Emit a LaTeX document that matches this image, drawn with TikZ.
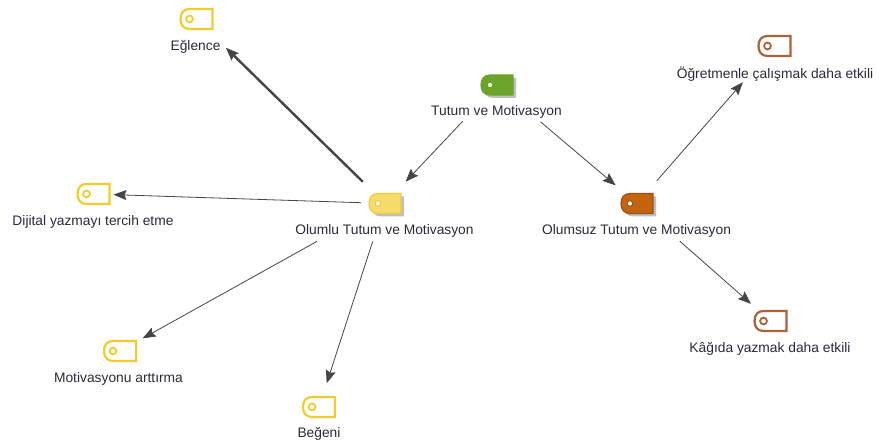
\documentclass[tikz,border=0pt]{standalone}
\usepackage{fontspec}
\setmainfont{Liberation Sans}
\usetikzlibrary{arrows.meta}
\definecolor{linkc}{HTML}{454545}
\definecolor{txt}{HTML}{2A2A3A}
\definecolor{ylw}{HTML}{F2CB2E}
\definecolor{ylwf}{HTML}{F5DA6C}
\definecolor{brn}{HTML}{A9623A}
\definecolor{grn}{HTML}{6BA428}
\definecolor{org}{HTML}{C4640F}
\definecolor{orgd}{HTML}{9A5214}
\tikzset{
  x=1pt,y=-1pt,
  link/.style={draw=linkc,line width=0.8pt,-{Stealth[length=13pt,width=10pt,inset=2pt]}},
  heavylink/.style={link,line width=2.4pt},
  concept/.style={font=\fontsize{13.8}{16}\selectfont,text=txt,inner sep=0pt},
  tagbox/.style={minimum width=33pt,minimum height=21pt,inner sep=0pt},
}
% name, x, y, stroke
\newcommand\hollowtag[4]{%
  \node[tagbox] (#1) at (#2,#3) {};
  \begin{scope}[shift={(#2,#3)}]
    \draw[#4,line width=2.2pt,fill=white] (-7,-10) -- (16,-10) -- (16,10) -- (-7,10) .. controls (-13,10) and (-16,6) .. (-16,0) .. controls (-16,-6) and (-13,-10) .. (-7,-10) -- cycle;
    \draw[#4,line width=1.8pt,fill=white] (-7,0) circle (3.4);
  \end{scope}}
% name, x, y, stroke, fill, dot ring
\newcommand\solidtag[6]{%
  \node[tagbox] (#1) at (#2,#3) {};
  \begin{scope}[shift={(#2,#3)}]
    \fill[black!25,shift={(3,3)}] (-7,-10) -- (16,-10) -- (16,10) -- (-7,10) .. controls (-13,10) and (-16,6) .. (-16,0) .. controls (-16,-6) and (-13,-10) .. (-7,-10) -- cycle;
    \draw[#4,line width=1.2pt,fill=#5] (-7,-10) -- (16,-10) -- (16,10) -- (-7,10) .. controls (-13,10) and (-16,6) .. (-16,0) .. controls (-16,-6) and (-13,-10) .. (-7,-10) -- cycle;
    \draw[#6,line width=1pt,fill=white] (-7,0) circle (2.8);
  \end{scope}}
\begin{document}
\begin{tikzpicture}
\useasboundingbox (0,0) rectangle (879,443);
\fill[white] (0,0) rectangle (879,443);

\solidtag{root}{497}{85}{grn}{grn}{grn}
\solidtag{pos}{385}{203.5}{ylw}{ylwf}{ylw}
\solidtag{neg}{637}{203.5}{orgd}{org}{orgd}
\hollowtag{egl}{196.5}{19}{ylw}
\hollowtag{dij}{93.5}{194}{ylw}
\hollowtag{mot}{120}{351}{ylw}
\hollowtag{beg}{319}{407}{ylw}
\hollowtag{ogr}{774.5}{46}{brn}
\hollowtag{kag}{770.5}{321}{brn}

\node[concept] (rootl) at (496.5,112) {Tutum ve Motivasyon};
\node[concept] (posl) at (384.5,231) {Olumlu Tutum ve Motivasyon};
\node[concept] (negl) at (636.5,231) {Olumsuz Tutum ve Motivasyon};
\node[concept] (egll) at (195.5,47) {Eğlence};
\node[concept] (dijl) at (93,222) {Dijital yazmayı tercih etme};
\node[concept] (motl) at (118.5,379) {Motivasyonu arttırma};
\node[concept] (begl) at (319,434) {Beğeni};
\node[concept] (ogrl) at (775,74) {Öğretmenle çalışmak daha etkili};
\node[concept] (kagl) at (770,349) {Kâğıda yazmak daha etkili};

\draw[link,shorten <=50pt,shorten >=30pt] (root.center) -- (pos.center);
\draw[link,shorten <=57pt,shorten >=28pt] (root.center) -- (neg.center);
\draw[heavylink,shorten <=31pt,shorten >=41pt] (pos.center) -- (egl.center);
\draw[link,shorten <=24pt,shorten >=20pt] (pos.center) -- (dij.center);
\draw[link,shorten <=78pt,shorten >=26pt] (pos.center) -- (mot.center);
\draw[link,shorten <=40pt,shorten >=25pt] (pos.center) -- (beg.center);
\draw[link,shorten <=30pt,shorten >=48pt] (neg.center) -- (ogr.center);
\draw[link,shorten <=57pt,shorten >=26pt] (neg.center) -- (kag.center);
\end{tikzpicture}
\end{document}
